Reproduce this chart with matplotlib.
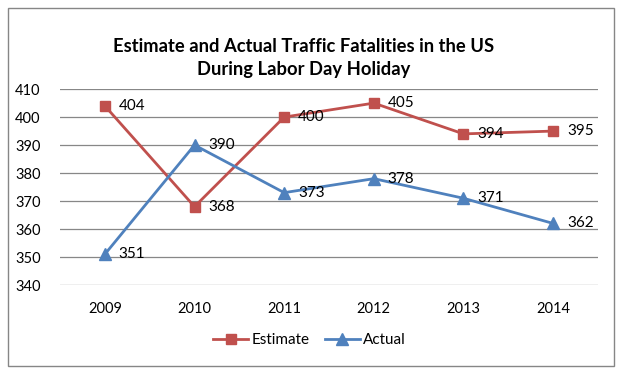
import matplotlib
matplotlib.use("Agg")
import matplotlib.pyplot as plt
from matplotlib.patches import Rectangle

years = ["2009", "2010", "2011", "2012", "2013", "2014"]
estimate = [404, 368, 400, 405, 394, 395]
actual = [351, 390, 373, 378, 371, 362]
yticks = [340, 350, 360, 370, 380, 390, 400, 410]

plt.rcParams['font.family'] = ['Lato', 'DejaVu Sans']

fig = plt.figure(figsize=(6.19, 3.76), dpi=100)
ax = fig.add_axes([0.097, 0.242, 0.869, 0.521])

red = "#C0504D"
blue = "#4F81BD"
x = list(range(len(years)))
ax.plot(x, estimate, color=red, lw=2.0, marker='s', ms=7, label="Estimate", zorder=3)
ax.plot(x, actual, color=blue, lw=2.0, marker='^', ms=8, label="Actual", zorder=3)

for xi, v in zip(x, estimate):
    ax.annotate(str(v), (xi, v), xytext=(10, 0), textcoords='offset points',
                va='center', ha='left', fontsize=11)
for xi, v in zip(x, actual):
    ax.annotate(str(v), (xi, v), xytext=(10, 0), textcoords='offset points',
                va='center', ha='left', fontsize=11)

ax.set_xlim(-0.5, len(years) - 0.5)
ax.set_ylim(340, 410)
ax.set_yticks(yticks)
ax.set_xticks(x)
ax.set_xticklabels(years)
ax.tick_params(axis='both', length=0, labelsize=10.5)
ax.tick_params(axis='x', pad=12)
ax.tick_params(axis='y', pad=14)
ax.grid(axis='y', color='#878787', lw=0.9)
ax.set_axisbelow(True)
for s in ax.spines.values():
    s.set_visible(False)

fig.text(0.491, 0.845, "Estimate and Actual Traffic Fatalities in the US\nDuring Labor Day Holiday",
         ha='center', va='center', fontsize=13.2, fontweight='bold', linespacing=1.4)

fig.legend(loc='center', bbox_to_anchor=(0.5, 0.096), ncol=2, frameon=False,
           fontsize=11, handlelength=2.3, columnspacing=1.0, handletextpad=0.2)

fig.patches.append(Rectangle((8/619, 1-366/376), (614-8)/619, (366-8)/376,
                             transform=fig.transFigure, fill=False,
                             edgecolor='#868686', lw=1.0))

fig.savefig("out.png", dpi=100)
